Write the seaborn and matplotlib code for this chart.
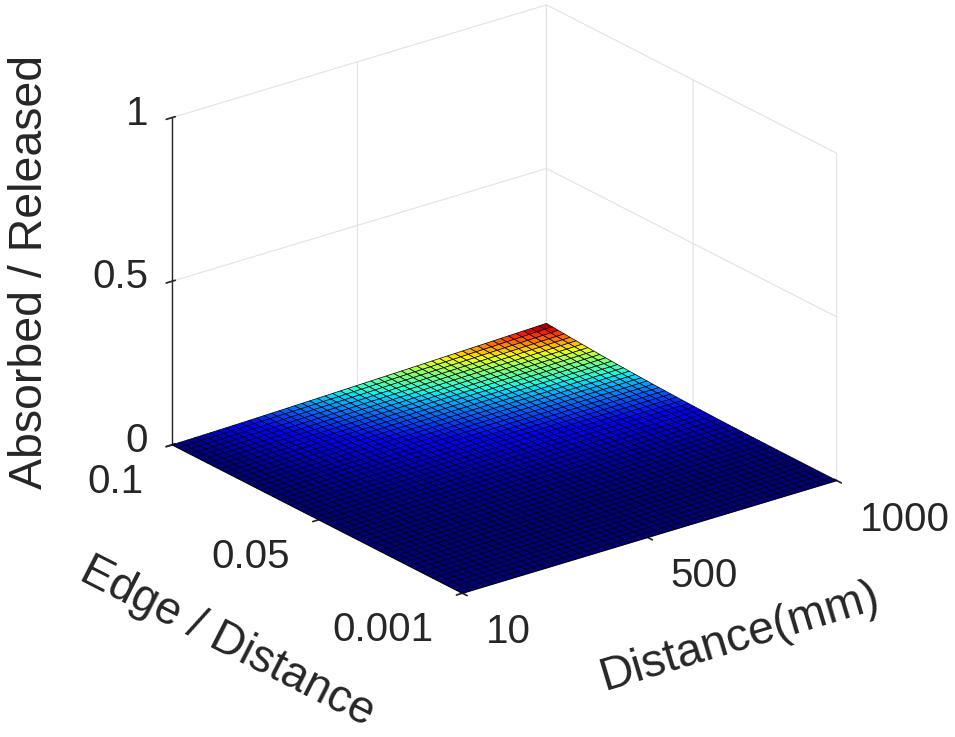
import numpy as np
import matplotlib
matplotlib.use("Agg")
import matplotlib.pyplot as plt
import matplotlib.transforms as mtransforms
from mpl_toolkits.mplot3d import proj3d
import seaborn as sns

# Grid of the surface (MATLAB-style 50 x 50 mesh)
distance_mm = np.linspace(10, 1000, 50)
edge_ratio = np.linspace(0.001, 0.1, 50)

peak_ratio = 0.027
distance_power = 1.25
edge_power = 2.9

# Ticks
distance_ticks = [10, 500, 1000]
distance_tick_labels = ['10', '500', '1000']
edge_ticks = [0.001, 0.05, 0.1]
edge_tick_labels = ['0.001', '0.05', '0.1']
ratio_ticks = [0, 0.5, 1]
ratio_tick_labels = ['0', '0.5', '1']

D, E = np.meshgrid(distance_mm, edge_ratio)
Z = peak_ratio * (D / distance_mm.max()) ** distance_power * (E / edge_ratio.max()) ** edge_power

sns.set_theme(style='white')
plt.rcParams['font.family'] = ['Liberation Sans', 'DejaVu Sans']
text_color = '#262626'

fig = plt.figure(figsize=(9.55, 7.37), dpi=100)
ax = fig.add_axes([126 / 955, 59.5 / 737, 737 / 955, 1.0], projection='3d')
ax.set_proj_type('ortho')
ax.view_init(elev=23.1, azim=-127.5)
ax.set_box_aspect((472, 477, 356), zoom=1.0)

ax.plot_surface(D, E, Z, cmap='jet', vmin=Z.min(), vmax=Z.max(),
                edgecolor='black', linewidth=0.5,
                rstride=1, cstride=1, antialiased=True)

x0, x1 = 10, 1000
y0, y1 = 0.001, 0.1
z0, z1 = 0, 1
ax.set_xlim(x0, x1)
ax.set_ylim(y0, y1)
ax.set_zlim(z0, z1)

ax.set_xticks(distance_ticks)
ax.set_yticks(edge_ticks)
ax.set_zticks(ratio_ticks)

for axis in (ax.xaxis, ax.yaxis, ax.zaxis):
    axis.set_pane_color((1, 1, 1, 0))
    axis.pane.set_edgecolor('#dcdcdc')
    axis._axinfo['grid']['color'] = '#e2e2e2'
    axis._axinfo['grid']['linewidth'] = 0.8
    axis._axinfo['tick']['color'] = text_color
    axis.line.set_color(text_color)
    axis.line.set_linewidth(1.0)
    # tick labels are written by hand below, next to the ticks like MATLAB does
    axis.set_tick_params(label1On=False, label2On=False)
    axis.label.set_visible(False)
    axis.get_offset_text().set_visible(False)
ax.grid(True)

M = ax.get_proj()


def to_2d(x, y, z):
    px, py, _ = proj3d.proj_transform(x, y, z, M)
    return float(px), float(py)


def along(p, q):
    # screen angle of the edge p -> q
    (ax_, ay_), (bx_, by_) = to_2d(*p), to_2d(*q)
    ang = np.degrees(np.arctan2(by_ - ay_, bx_ - ax_))
    if ang > 90:
        ang -= 180
    if ang < -90:
        ang += 180
    return ang


def shifted(dx, dy):
    return mtransforms.offset_copy(ax.transData, fig=fig, x=dx, y=dy, units='dots')


tick_size = 29
label_size = 33.5

for val, lab in zip(distance_ticks, distance_tick_labels):
    px, py = to_2d(val, y0, z0)
    ax.text2D(px, py, lab, fontsize=tick_size, color=text_color,
              ha='left', va='top', transform=shifted(23, -20))
for val, lab in zip(edge_ticks, edge_tick_labels):
    px, py = to_2d(x0, val, z0)
    ax.text2D(px, py, lab, fontsize=tick_size, color=text_color,
              ha='right', va='top', transform=shifted(-29, -18))
for val, lab in zip(ratio_ticks, ratio_tick_labels):
    px, py = to_2d(x0, y1, val)
    ax.text2D(px, py, lab, fontsize=tick_size, color=text_color,
              ha='right', va='center', transform=shifted(-24, 4))

# Axis titles, rotated along their axes
px, py = to_2d((x0 + x1) / 2, y0, z0)
ax.text2D(px, py, 'Distance(mm)', fontsize=label_size, color=text_color,
          rotation=along((x0, y0, z0), (x1, y0, z0)),
          ha='center', va='center', transform=shifted(90, -100))
px, py = to_2d(x0, (y0 + y1) / 2, z0)
ax.text2D(px, py, 'Edge / Distance', fontsize=33, color=text_color,
          rotation=along((x0, y0, z0), (x0, y1, z0)),
          ha='center', va='center', transform=shifted(-90, -123))
px, py = to_2d(x0, y1, (z0 + z1) / 2)
ax.text2D(px, py, 'Absorbed / Released', fontsize=label_size, color=text_color,
          rotation=90, ha='center', va='center', transform=shifted(-142, 9))

fig.savefig('out.png', dpi=100)
